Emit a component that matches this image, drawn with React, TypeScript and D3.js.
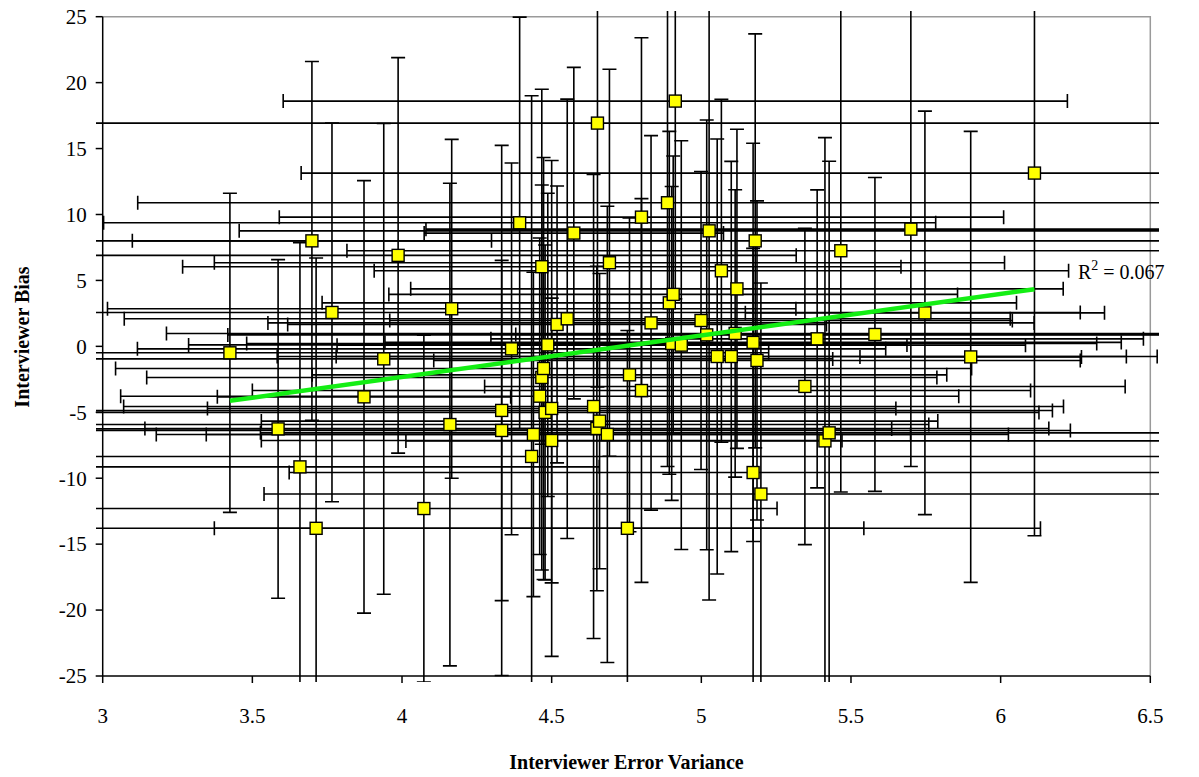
import React, { useEffect, useRef } from 'react';
import * as d3 from 'd3';

// interviewer error variance (x) and bias (y)
const xValues = [3.425, 3.586, 3.659, 3.699, 3.713, 3.766, 3.873, 3.939, 3.987, 4.073, 4.166, 4.16, 4.333, 4.333, 4.366, 4.393, 4.433, 4.439, 4.46, 4.467, 4.467, 4.473, 4.478, 4.487, 4.5, 4.5, 4.518, 4.552, 4.574, 4.64, 4.651, 4.653, 4.66, 4.686, 4.693, 4.753, 4.76, 4.8, 4.8, 4.832, 4.887, 4.893, 4.906, 4.913, 4.901, 4.933, 4.999, 5.018, 5.026, 5.053, 5.067, 5.1, 5.113, 5.119, 5.173, 5.173, 5.18, 5.186, 5.199, 5.346, 5.387, 5.413, 5.427, 5.466, 5.58, 5.7, 5.747, 5.9, 6.113];
const yValues = [-0.49, -6.26, -9.14, 8.0, -13.8, 2.57, -3.83, -0.95, 6.9, -12.3, 2.85, -5.93, -4.86, -6.38, -0.19, 9.37, -8.35, -6.68, -3.78, 6.04, -2.36, -1.68, -5.01, 0.11, -4.71, -7.14, 1.66, 2.09, 8.59, -4.56, -6.23, 16.93, -5.67, -6.68, 6.34, -13.8, -2.16, -3.35, 9.8, 1.78, 10.89, 3.3, 3.94, 18.6, 0.22, 0.09, 1.96, 0.87, 8.76, -0.77, 5.73, -0.77, 0.98, 4.36, 0.3, -9.57, 8.0, -1.07, -11.2, -3.04, 0.57, -7.17, -6.56, 7.25, 0.9, 8.89, 2.54, -0.8, 13.14];
const xErrors = [1.8, 2.05, 1.0, 0.6, 1.83, 2.5, 0.49, 1.5, 1.33, 1.18, 1.15, 1.6, 1.84, 1.9, 1.25, 1.39, 2.1, 1.26, 1.4, 1.2, 1.32, 1.43, 1.65, 1.2, 1.15, 0.97, 0.9, 1.48, 0.5, 1.57, 1.51, 2.0, 1.13, 1.34, 1.32, 1.38, 1.06, 1.3, 1.21, 1.28, 1.77, 1.16, 0.95, 1.31, 1.42, 1.15, 1.04, 1.6, 1.57, 1.47, 1.16, 1.32, 1.9, 1.09, 1.23, 1.55, 2.4, 1.08, 1.66, 1.07, 1.09, 1.4, 1.9, 1.65, 1.2, 1.62, 0.6, 0.37, 2.45];
const yErrors = [12.1, 12.84, 17, 13.6, 20.5, 14.36, 16.4, 17.85, 15, 13.15, 12.85, 18.3, 20.1, 12.9, 14.1, 15.6, 27.35, 12.3, 12, 13.46, 14.6, 16, 12.7, 11.5, 18.8, 10.8, 10.5, 16.66, 12.57, 17.6, 12.3, 20, 11.2, 17.3, 14.67, 15, 11.9, 14.55, 13.6, 14.2, 20, 13, 10.5, 15, 11.9, 15.5, 11.3, 16.3, 28, 16.5, 13, 14.8, 10.9, 12.1, 15.1, 17, 15.7, 12.1, 16, 12, 11.3, 23, 20.6, 18.3, 11.9, 18, 15.3, 17.1, 27.5];

const xTicks = [3, 3.5, 4, 4.5, 5, 5.5, 6, 6.5];
const yTicks = [-25, -20, -15, -10, -5, 0, 5, 10, 15, 20, 25];

// linear trendline as shown on the chart
const trendSlope = 3.15;
const trendIntercept = -14.92;
const rSquared = '0.067';

const App = () => {
  const svgRef = useRef<SVGSVGElement>(null);

  useEffect(() => {
    const svg = d3.select(svgRef.current);
    svg.selectAll('*').remove();

    const left = 102.7, right = 1150.3, top = 16.7, bottom = 676;
    const font = '"Liberation Serif", "Times New Roman", serif';

    const x = d3.scaleLinear().domain([3, 6.5]).range([left, right]);
    const y = d3.scaleLinear().domain([-25, 25]).range([bottom, top]);

    // error bars spill a little past the plot area, then get clipped
    svg.append('defs').append('clipPath').attr('id', 'errClip')
      .append('rect').attr('x', 96).attr('y', 11).attr('width', 1063).attr('height', 671);

    // gray plot border (top and right)
    svg.append('path')
      .attr('d', `M${left},${top}H${right}V${bottom}`)
      .attr('fill', 'none').attr('stroke', '#9a9a9a').attr('stroke-width', 1.5);

    const pts = xValues.map((v, i) => ({ x: v, y: yValues[i], xe: xErrors[i], ye: yErrors[i] }));
    const cap = 7;

    const err = svg.append('g').attr('clip-path', 'url(#errClip)')
      .attr('stroke', '#000').attr('stroke-width', 1.6).attr('fill', 'none');

    pts.forEach(p => {
      const cx = x(p.x), cy = y(p.y);
      const x0 = x(p.x - p.xe), x1 = x(p.x + p.xe);
      const y0 = y(p.y + p.ye), y1 = y(p.y - p.ye);
      err.append('path')
        .attr('d', `M${x0},${cy}H${x1}M${x0},${cy - cap}V${cy + cap}M${x1},${cy - cap}V${cy + cap}`);
      err.append('path')
        .attr('d', `M${cx},${y0}V${y1}M${cx - cap},${y0}H${cx + cap}M${cx - cap},${y1}H${cx + cap}`);
    });

    // axes
    const axis = svg.append('g').attr('stroke', '#000').attr('stroke-width', 1.5);
    axis.append('line').attr('x1', left).attr('x2', left).attr('y1', top).attr('y2', bottom);
    axis.append('line').attr('x1', left).attr('x2', right).attr('y1', bottom).attr('y2', bottom);
    yTicks.forEach(t => {
      axis.append('line').attr('x1', left - 7).attr('x2', left).attr('y1', y(t)).attr('y2', y(t));
    });
    xTicks.forEach(t => {
      axis.append('line').attr('x1', x(t)).attr('x2', x(t)).attr('y1', bottom).attr('y2', bottom + 7);
    });

    svg.selectAll('.ylab').data(yTicks).enter().append('text')
      .attr('x', left - 16).attr('y', d => y(d)).attr('dy', '0.35em')
      .attr('text-anchor', 'end').attr('font-family', font).attr('font-size', 21)
      .text(d => d);

    svg.selectAll('.xlab').data(xTicks).enter().append('text')
      .attr('x', d => x(d)).attr('y', bottom + 47)
      .attr('text-anchor', 'middle').attr('font-family', font).attr('font-size', 21)
      .text(d => d);

    // markers
    const size = 12;
    svg.append('g').selectAll('rect').data(pts).enter().append('rect')
      .attr('x', d => x(d.x) - size / 2).attr('y', d => y(d.y) - size / 2)
      .attr('width', size).attr('height', size)
      .attr('fill', '#ffff00').attr('stroke', '#000').attr('stroke-width', 1.4);

    // trendline over the data range
    const [xmin, xmax] = d3.extent(xValues) as [number, number];
    svg.append('line')
      .attr('x1', x(xmin)).attr('y1', y(trendIntercept + trendSlope * xmin))
      .attr('x2', x(xmax)).attr('y2', y(trendIntercept + trendSlope * xmax))
      .attr('stroke', '#14ee14').attr('stroke-width', 4.5);

    const r2 = svg.append('text').attr('x', 1078).attr('y', 279)
      .attr('font-family', font).attr('font-size', 20);
    r2.append('tspan').text('R');
    r2.append('tspan').attr('dy', -9).attr('font-size', 14).text('2');
    r2.append('tspan').attr('dy', 9).text(` = ${rSquared}`);

    // axis titles
    svg.append('text').attr('x', (left + right) / 2).attr('y', 769)
      .attr('text-anchor', 'middle').attr('font-family', font).attr('font-size', 20)
      .attr('font-weight', 'bold').text('Interviewer Error Variance');
    svg.append('text').attr('transform', 'translate(29,337) rotate(-90)')
      .attr('text-anchor', 'middle').attr('font-family', font).attr('font-size', 20)
      .attr('font-weight', 'bold').text('Interviewer Bias');
  }, []);

  return (
    <svg ref={svgRef} width={1199} height={777}
      style={{ position: 'absolute', left: 0, top: 0, background: '#fff' }} />
  );
};

export default App;
